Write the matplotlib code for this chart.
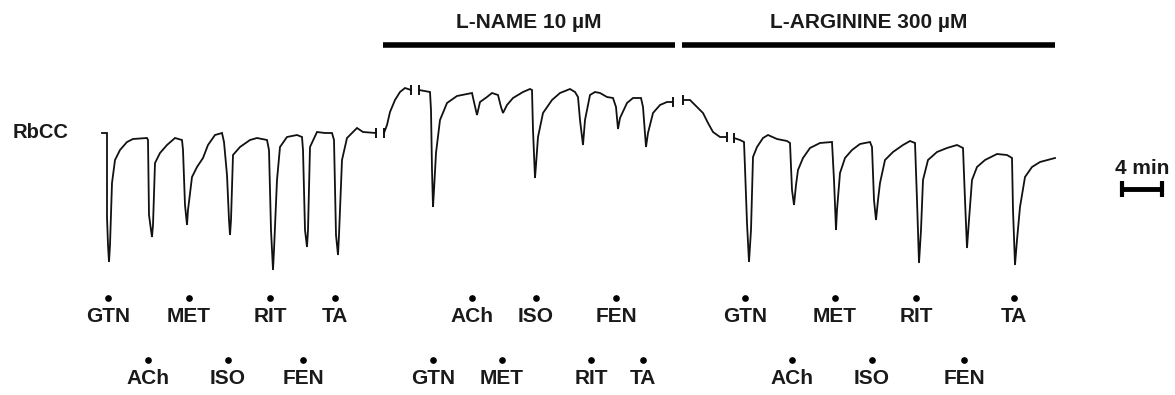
import matplotlib
matplotlib.use("Agg")
import matplotlib.pyplot as plt

# isometric tension trace, time in min, tension in arbitrary units
# trace is split where the recording was cut (break marks)
seg_times = [
    [0.2, 0.7, 0.7, 0.8, 0.9, 1.0, 1.2, 1.5, 2.0, 2.7, 3.3, 4.7, 4.8, 4.9, 5.1, 5.2, 5.3, 5.5, 6.0, 6.7,
     7.5, 8.2, 8.3, 8.5, 8.7, 8.8, 9.2, 9.7, 10.3, 10.8, 11.5, 12.2, 12.4, 12.7, 12.9, 13.0, 13.1, 13.3,
     14.0, 15.0, 15.7, 16.7, 16.9, 17.1, 17.3, 17.4, 17.7, 18.0, 18.7, 19.7, 20.2, 20.3, 20.5, 20.7, 20.8,
     21.0, 21.7, 22.5, 23.2, 23.4, 23.6, 23.8, 23.9, 24.2, 24.7, 25.7, 26.3, 27.6],
    [28.4, 28.7, 29.0, 29.5, 30.0, 30.5, 31.1],
    [31.9, 33.0, 33.1, 33.2, 33.3, 33.4, 33.6, 34.0, 34.7, 35.7, 36.7, 37.2, 37.4, 37.7, 38.0, 38.7, 39.2,
     39.8, 40.1, 40.3, 40.7, 41.3, 42.3, 43.0, 43.2, 43.3, 43.5, 43.6, 43.8, 44.3, 45.2, 46.0, 47.0, 47.5,
     47.8, 48.0, 48.3, 48.5, 49.0, 49.5, 50.0, 50.7, 51.3, 51.6, 51.8, 52.0, 52.7, 53.3, 54.1, 54.3, 54.6,
     54.8, 55.3, 56.0, 56.7, 57.3],
    [58.3, 59.0, 59.7, 60.3, 60.8, 61.3, 62.0, 62.7],
    [63.4, 64.0, 64.4, 64.5, 64.7, 64.9, 65.1, 65.3, 65.7, 66.3, 66.8, 67.7, 68.7, 69.0, 69.2, 69.4, 69.6,
     69.8, 70.3, 71.0, 72.0, 73.2, 73.4, 73.6, 73.7, 74.0, 74.5, 75.2, 76.0, 77.0, 77.2, 77.4, 77.6, 77.8,
     78.0, 78.5, 79.3, 80.3, 81.0, 81.5, 81.7, 81.9, 82.1, 82.3, 82.8, 83.7, 84.7, 85.7, 86.3, 86.5, 86.7,
     86.9, 87.2, 87.7, 88.5, 89.7, 90.7, 91.2, 91.3, 91.5, 91.7, 92.0, 92.5, 93.2, 94.0, 95.5],
]
seg_tension = [
    [14.7, 14.7, 6.3, 3.5, 1.8, 3.5, 9.7, 12.0, 13.0, 13.8, 14.1, 14.2, 14.0, 6.5, 5.0, 4.3, 5.5, 11.7, 12.7, 13.5,
     14.2, 14.0, 13.0, 7.5, 5.5, 7.0, 10.3, 11.3, 12.2, 13.5, 14.5, 14.7, 13.8, 10.5, 6.0, 4.5, 6.0, 12.5,
     13.3, 14.0, 14.2, 14.0, 13.0, 5.0, 1.0, 3.0, 10.0, 13.3, 14.3, 14.5, 14.3, 13.0, 5.0, 3.3, 5.0,
     13.3, 14.8, 14.7, 14.7, 14.0, 4.5, 2.5, 4.5, 12.0, 14.2, 15.2, 14.8, 14.7],
    [14.7, 15.5, 16.8, 18.0, 18.8, 19.2, 19.0],
    [19.0, 18.8, 17.0, 11.0, 7.3, 9.0, 12.7, 16.0, 17.7, 18.4, 18.6, 18.7, 17.8, 16.5, 17.8, 18.3, 18.7,
     18.5, 17.3, 16.7, 17.5, 18.2, 18.8, 19.1, 19.0, 15.0, 10.2, 11.5, 14.3, 16.7, 18.0, 18.7, 19.1, 18.8,
     18.3, 16.0, 13.5, 16.0, 18.5, 18.8, 18.7, 18.3, 18.2, 17.3, 15.1, 16.2, 17.7, 18.2, 18.2, 17.3, 13.3,
     14.7, 16.7, 17.5, 17.8, 17.8],
    [18.0, 18.0, 17.3, 16.7, 15.7, 14.8, 14.3, 14.3],
    [14.2, 14.0, 13.8, 11.2, 5.7, 1.8, 5.0, 12.3, 13.3, 14.2, 14.5, 14.1, 13.9, 13.7, 9.0, 7.5, 9.5,
     11.0, 12.2, 13.2, 13.7, 13.8, 10.0, 5.0, 7.0, 10.7, 12.2, 13.0, 13.6, 13.8, 13.3, 8.0, 6.0, 8.0,
     9.7, 12.0, 12.8, 13.5, 13.9, 13.7, 8.0, 1.7, 5.0, 10.0, 12.0, 12.8, 13.2, 13.5, 13.2, 8.0, 3.2,
     6.0, 10.0, 11.3, 12.0, 12.6, 12.5, 12.2, 7.0, 1.5, 4.0, 7.3, 10.3, 11.3, 11.8, 12.2],
]

# drug additions (min)
row1_drugs = ["GTN", "MET", "RIT", "TA", "ACh", "ISO", "FEN", "GTN", "MET", "RIT", "TA"]
row1_times = [0.8, 8.9, 17.0, 23.5, 37.2, 43.6, 51.6, 64.5, 73.5, 81.6, 91.4]
row2_drugs = ["ACh", "ISO", "FEN", "GTN", "MET", "RIT", "TA", "ACh", "ISO", "FEN"]
row2_times = [4.8, 12.8, 20.3, 33.3, 40.2, 49.1, 54.3, 69.2, 77.2, 86.4]

treatments = ["L-NAME 10 µM", "L-ARGININE 300 µM"]
treat_start = [28.3, 58.2]
treat_end = [57.5, 95.5]

scale_min = 4

plt.rcParams['font.family'] = ['Liberation Sans', 'DejaVu Sans']
fig = plt.figure(figsize=(11.75, 3.95), dpi=100)
ax = fig.add_axes([0, 0, 1, 1])
ax.set_xlim(-10, 107.5)
ax.set_ylim(-11.5, 28)
ax.axis('off')

for i, (t, f) in enumerate(zip(seg_times, seg_tension)):
    ax.plot(t, f, color='#111111', lw=1.3, solid_joinstyle='miter')
    # break marks at the cut ends
    if i > 0:
        ax.plot(t[0], f[0], marker='|', ms=6.5, mew=1.4, color='#111111')
    if i < len(seg_times) - 1:
        ax.plot(t[-1], f[-1], marker='|', ms=6.5, mew=1.4, color='#111111')

ax.text(-5.9, 14.7, "RbCC", fontsize=14.5, fontweight='bold', ha='center', va='center', color='#1a1a1a')

for name, t in zip(row1_drugs, row1_times):
    ax.plot(t, -1.8, 'o', color='black', ms=3.8)
    ax.text(t, -3.7, name, fontsize=15, fontweight='bold', ha='center', va='center', color='#1a1a1a')
for name, t in zip(row2_drugs, row2_times):
    ax.plot(t, -8.0, 'o', color='black', ms=3.8)
    ax.text(t, -9.9, name, fontsize=15, fontweight='bold', ha='center', va='center', color='#1a1a1a')

for name, t0, t1 in zip(treatments, treat_start, treat_end):
    ax.plot([t0, t1], [23.55, 23.55], color='black', lw=4, solid_capstyle='butt')
    ax.text((t0 + t1) / 2, 25.8, name, fontsize=15, fontweight='bold', ha='center', va='center',
            color='#1a1a1a')

# time scale bar
ax.plot([102.2, 102.2 + scale_min], [9.1, 9.1], color='black', lw=3.5,
        marker='|', ms=11, mew=3, solid_capstyle='butt')
ax.text(102.2 + scale_min / 2, 11.2, f"{scale_min} min", fontsize=15, fontweight='bold',
        ha='center', va='center', color='#1a1a1a')

fig.savefig("out.png", dpi=100)
